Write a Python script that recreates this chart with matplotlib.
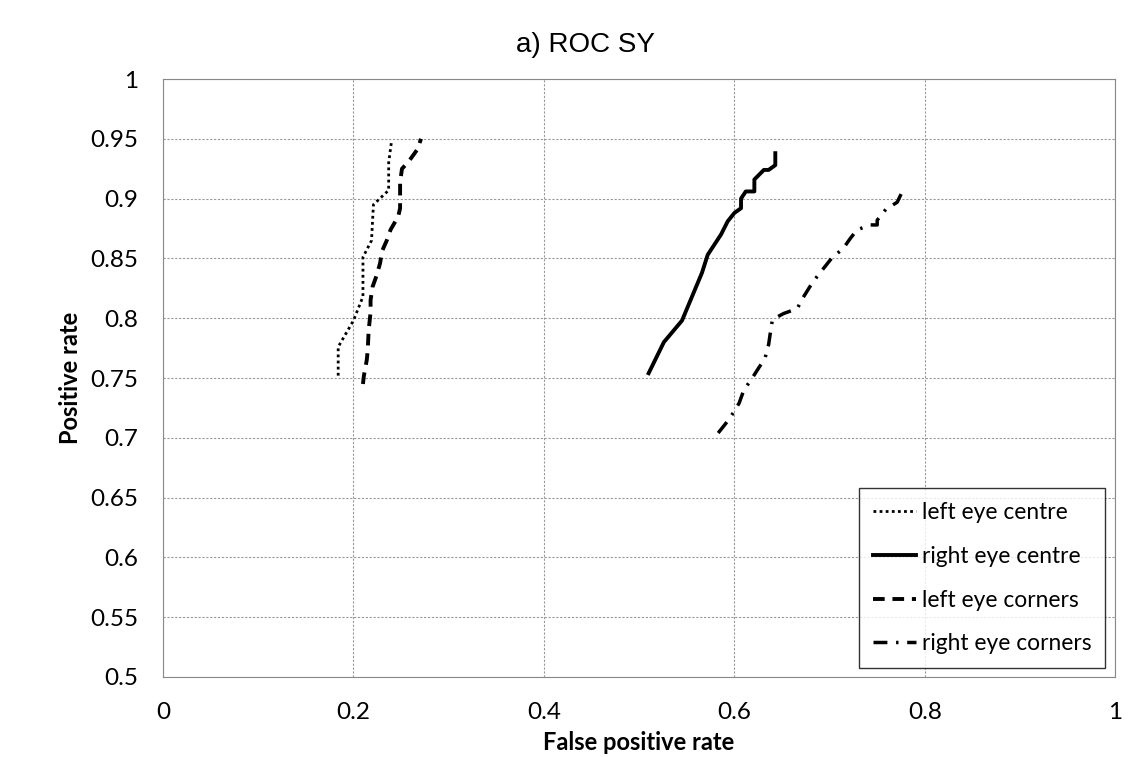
import numpy as np
import matplotlib
matplotlib.use("Agg")
import matplotlib.pyplot as plt

plt.rcParams['font.family'] = ['Lato', 'DejaVu Sans']

# left eye centre (dotted)
lec_x = [0.184, 0.184, 0.200, 0.210, 0.210, 0.219, 0.221, 0.237, 0.237, 0.240]
lec_y = [0.752, 0.776, 0.798, 0.818, 0.851, 0.865, 0.895, 0.907, 0.930, 0.948]

# right eye centre (solid)
rec_x = [0.510, 0.526, 0.545, 0.566, 0.572, 0.586, 0.593, 0.600, 0.607, 0.607,
         0.612, 0.621, 0.621, 0.631, 0.636, 0.643, 0.643]
rec_y = [0.754, 0.780, 0.798, 0.838, 0.853, 0.870, 0.881, 0.888, 0.892, 0.900,
         0.906, 0.906, 0.916, 0.924, 0.924, 0.928, 0.938]

# left eye corners (dashed)
lco_x = [0.210, 0.211, 0.214, 0.215, 0.216, 0.218, 0.218, 0.220, 0.224, 0.228,
         0.230, 0.235, 0.239, 0.247, 0.249, 0.249, 0.251, 0.258, 0.267, 0.271]
lco_y = [0.745, 0.752, 0.765, 0.773, 0.790, 0.805, 0.815, 0.826, 0.835, 0.846,
         0.856, 0.865, 0.874, 0.885, 0.892, 0.914, 0.925, 0.931, 0.941, 0.950]

# right eye corners (dash-dot)
rco_x = [0.583, 0.591, 0.599, 0.605, 0.610, 0.618, 0.626, 0.632, 0.636, 0.638,
         0.640, 0.652, 0.666, 0.672, 0.679, 0.687, 0.695, 0.703, 0.714, 0.722,
         0.729, 0.743, 0.750, 0.750, 0.759, 0.771, 0.777]
rco_y = [0.704, 0.712, 0.721, 0.729, 0.740, 0.749, 0.759, 0.766, 0.778, 0.789,
         0.799, 0.804, 0.808, 0.817, 0.826, 0.835, 0.843, 0.851, 0.858, 0.867,
         0.874, 0.878, 0.878, 0.882, 0.891, 0.897, 0.907]

x_ticks = [0, 0.2, 0.4, 0.6, 0.8, 1]
x_labels = ["0", "0.2", "0.4", "0.6", "0.8", "1"]
y_ticks = [0.5, 0.55, 0.6, 0.65, 0.7, 0.75, 0.8, 0.85, 0.9, 0.95, 1]
y_labels = ["0.5", "0.55", "0.6", "0.65", "0.7", "0.75", "0.8", "0.85", "0.9", "0.95", "1"]

fig = plt.figure(figsize=(11.46, 7.57), dpi=100)
ax = fig.add_axes([0.1422, 0.1057, 0.8310, 0.7899])

ax.plot(lec_x, lec_y, color="black", lw=2, linestyle=(0, (1, 1.2)), label="left eye centre")
ax.plot(rec_x, rec_y, color="black", lw=2.8, linestyle="-", label="right eye centre")
ax.plot(lco_x, lco_y, color="black", lw=2.8, linestyle=(0, (3, 2)), label="left eye corners")
ax.plot(rco_x, rco_y, color="black", lw=2.5, linestyle=(0, (4, 2.5, 0.7, 2.5)), label="right eye corners")

ax.set_xlim(0, 1)
ax.set_ylim(0.5, 1)
ax.set_xticks(x_ticks)
ax.set_xticklabels(x_labels)
ax.set_yticks(y_ticks)
ax.set_yticklabels(y_labels)
ax.tick_params(length=0, labelsize=17.5, pad=18)
ax.grid(True, color="#999999", linestyle=(0, (2, 1.5)), lw=0.8)
ax.set_axisbelow(True)
for s in ax.spines.values():
    s.set_color("#888888")
    s.set_linewidth(0.8)

fig.text(0.511, 0.9406, "a) ROC SY", fontsize=20, ha="center", va="center",
         family=["Liberation Sans", "DejaVu Sans"])
ax.set_xlabel("False positive rate", fontsize=17, fontweight="bold", labelpad=6)
ax.set_ylabel("Positive rate", fontsize=17, fontweight="bold", labelpad=6)

leg = ax.legend(loc="lower right", bbox_to_anchor=(0.9895, 0.015),
                frameon=True, fancybox=False, edgecolor="black", handlelength=1.9,
                handletextpad=0.25, labelspacing=1.0, borderpad=0.6, borderaxespad=0,
                prop={'family': ['Lato', 'DejaVu Sans'], 'size': 16.4})
leg.get_frame().set_linewidth(1.0)

fig.savefig("out.png", dpi=100, facecolor="white")
